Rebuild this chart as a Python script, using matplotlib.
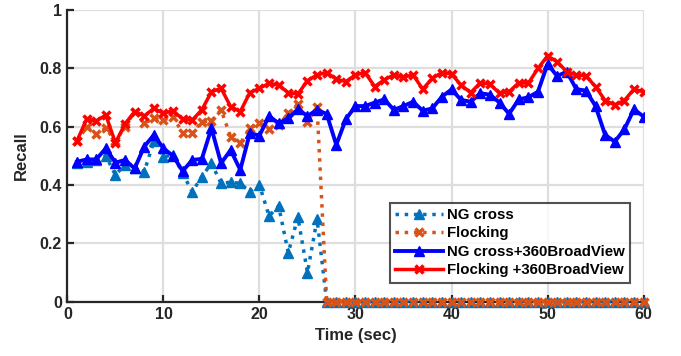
from matplotlib import pyplot as plt
import numpy as np

plt.rcParams['font.family'] = ['Liberation Sans', 'DejaVu Sans']
plt.rcParams['font.weight'] = 'bold'

t = np.arange(1, 61)

# recall values, one per second
ng_cross = [0.475, 0.48, 0.485, 0.50, 0.435, 0.47, 0.46, 0.446, 0.55, 0.497,
            0.503, 0.44, 0.377, 0.429, 0.475, 0.406, 0.41, 0.406, 0.377, 0.40,
            0.294, 0.328, 0.168, 0.29, 0.10, 0.283] + [0.0] * 34
flocking = [0.55, 0.60, 0.575, 0.595, 0.55, 0.60, 0.652, 0.612, 0.629, 0.623,
            0.635, 0.578, 0.578, 0.618, 0.62, 0.658, 0.566, 0.543, 0.595, 0.612,
            0.591, 0.606, 0.646, 0.678, 0.618, 0.667] + [0.0] * 34
ng_cross_bv = [0.48, 0.488, 0.488, 0.526, 0.477, 0.486, 0.457, 0.532, 0.572, 0.526,
               0.50, 0.448, 0.486, 0.49, 0.595, 0.475, 0.52, 0.452, 0.578, 0.57,
               0.637, 0.612, 0.629, 0.66, 0.637, 0.658, 0.644, 0.538, 0.626, 0.671,
               0.671, 0.683, 0.694, 0.658, 0.671, 0.686, 0.655, 0.663, 0.703, 0.728,
               0.692, 0.686, 0.715, 0.71, 0.683, 0.644, 0.694, 0.701, 0.72, 0.815,
               0.774, 0.789, 0.729, 0.724, 0.671, 0.572, 0.549, 0.591, 0.66, 0.635]
flocking_bv = [0.552, 0.626, 0.62, 0.64, 0.545, 0.61, 0.652, 0.637, 0.663, 0.646,
               0.655, 0.626, 0.623, 0.658, 0.72, 0.732, 0.669, 0.652, 0.717, 0.732,
               0.749, 0.743, 0.717, 0.712, 0.758, 0.778, 0.786, 0.763, 0.755, 0.778,
               0.786, 0.738, 0.761, 0.778, 0.77, 0.778, 0.729, 0.766, 0.786, 0.781,
               0.743, 0.717, 0.751, 0.746, 0.715, 0.72, 0.751, 0.749, 0.80, 0.843,
               0.823, 0.789, 0.778, 0.774, 0.738, 0.69, 0.675, 0.69, 0.729, 0.72]

fig = plt.figure(figsize=(6.81, 3.56), dpi=100)
ax = fig.add_axes([0.099, 0.1525, 0.846, 0.819])

ax.plot(t, ng_cross, ':', color='#0072BD', lw=2.5, marker='^', ms=6.5,
        label='NG cross', clip_on=False, zorder=3)
ax.plot(t, flocking, ':', color='#D95319', lw=2.5, marker='x', ms=6, mew=2.5,
        label='Flocking', clip_on=False, zorder=3)
ax.plot(t, ng_cross_bv, '-', color='blue', lw=2.8, marker='^', ms=6.5,
        label='NG cross+360BroadView', zorder=3)
ax.plot(t, flocking_bv, '-', color='red', lw=2.5, marker='x', ms=6, mew=2.5,
        label='Flocking +360BroadView', zorder=3)

ax.set_xlim(0, 60)
ax.set_ylim(0, 1)
ax.set_xticks(range(0, 61, 10))
ax.set_yticks([0, 0.2, 0.4, 0.6, 0.8, 1])
ax.set_yticklabels(['0', '0.2', '0.4', '0.6', '0.8', '1'])
ax.grid(True, color='#dedede', lw=1.6)
ax.set_axisbelow(True)
for s in ['top', 'right']:
    ax.spines[s].set_visible(False)
for s in ['left', 'bottom']:
    ax.spines[s].set_color('#262626')
    ax.spines[s].set_linewidth(1.6)
    ax.spines[s].set_zorder(2)
ax.tick_params(direction='in', length=5, width=1.6, colors='#262626',
               labelsize=11.5, pad=4)
for lab in ax.get_xticklabels() + ax.get_yticklabels():
    lab.set_fontweight('bold')
ax.set_xlabel('Time (sec)', fontsize=12, fontweight='bold', color='#262626')
ax.set_ylabel('Recall', fontsize=12, fontweight='bold', color='#262626',
              labelpad=8)

leg = ax.legend(loc='lower right', bbox_to_anchor=(0.99, 0.04),
                frameon=True, fancybox=False, handlelength=3.2,
                borderpad=0.35, labelspacing=0.3, handletextpad=0.3,
                prop={'weight': 'bold', 'size': 10.8})
leg.get_frame().set_edgecolor('#262626')
leg.get_frame().set_linewidth(1.5)
leg.set_zorder(5)

fig.savefig('out.png', dpi=100)
